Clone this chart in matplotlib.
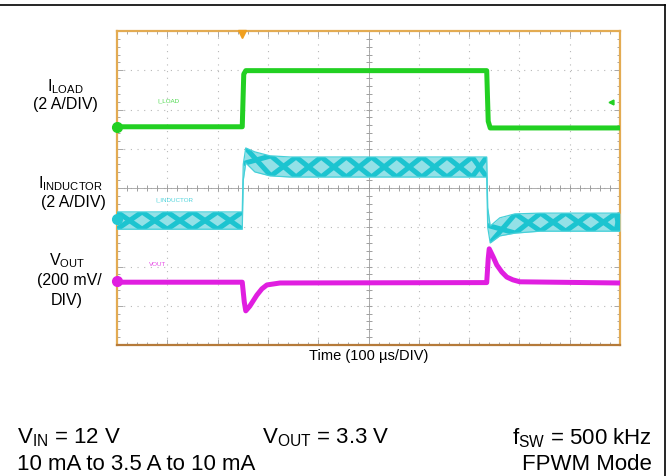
import numpy as np
import matplotlib.pyplot as plt
from matplotlib.lines import Line2D

plt.rcParams['font.family'] = ['Liberation Sans', 'DejaVu Sans']
plt.rcParams['mathtext.fontset'] = 'custom'
plt.rcParams['mathtext.rm'] = 'Liberation Sans'
plt.rcParams['mathtext.it'] = 'Liberation Sans:italic'

# scope screen: x in divisions (100 us/div), y in screen divisions (0..8)
iload_x = [0, 2.49, 2.52, 2.56, 7.35, 7.38, 7.42, 10]
iload_y = [5.56, 5.56, 6.9, 6.99, 6.99, 5.7, 5.53, 5.53]

ind_x = [0, 2.49, 2.51, 2.56, 2.74, 3.04, 3.44, 7.35, 7.37, 7.42, 7.61, 7.91, 8.41, 10]
ind_top = [3.39, 3.39, 4.6, 5.02, 4.92, 4.82, 4.79, 4.79, 3.5, 3.03, 3.24, 3.34, 3.36, 3.36]
ind_bot = [2.95, 2.95, 4.2, 4.64, 4.41, 4.31, 4.28, 4.28, 3.0, 2.60, 2.78, 2.85, 2.90, 2.90]
ind_flat = [(0, 2.49), (2.56, 7.35), (7.42, 10)]

vout_x = [0, 2.49, 2.53, 2.56, 2.64, 2.78, 2.88, 2.98, 3.24, 7.35, 7.38,
          7.40, 7.48, 7.55, 7.65, 7.75, 7.87, 8.01, 10]
vout_y = [1.60, 1.60, 1.10, 0.87, 0.99, 1.27, 1.43, 1.53, 1.58, 1.59, 2.20,
          2.45, 2.24, 2.04, 1.86, 1.73, 1.66, 1.61, 1.58]

# channel offsets (left markers) and trigger
ch_offsets = [5.56, 3.21, 1.63]
ch_colors = ['#22d022', '#22c8d2', '#e01ee0']
trig_x = 2.49
trig_level = 6.19
beat_step = 0.5   # spacing of the visible ripple beat pattern, div

W, H = 669, 476
fig = plt.figure(figsize=(W / 100, H / 100), dpi=100)
ax = fig.add_axes([117 / W, 1 - 345 / H, 503 / W, 314 / H])
ax.set_xlim(0, 10)
ax.set_ylim(0, 8)

# grid
for gx in range(1, 10):
    ax.axvline(gx, color='#b8b8b8', lw=0.8, ls=(0, (1, 5)), zorder=1)
for gy in range(1, 8):
    ax.axhline(gy, color='#b8b8b8', lw=0.8, ls=(0, (1, 5)), zorder=1)
ax.axhline(4, color='#a0a0a0', lw=0.6, zorder=1)
ax.axvline(5, color='#a0a0a0', lw=0.6, zorder=1)
tx = np.arange(0, 10.01, 0.2)
ty = np.arange(0, 8.01, 0.2)
ax.plot(tx, np.full_like(tx, 4), ls='none', marker='|', ms=4, color='#a0a0a0', mew=0.7, zorder=1)
ax.plot(np.full_like(ty, 5), ty, ls='none', marker='_', ms=4, color='#a0a0a0', mew=0.7, zorder=1)

ax.set_xticks(np.arange(0, 10.01, 1))
ax.set_xticks(tx, minor=True)
ax.set_yticks(np.arange(0, 8.01, 1))
ax.set_yticks(ty, minor=True)
ax.tick_params(which='both', direction='in', top=True, right=True,
               labelbottom=False, labelleft=False, color='#a8a8a8', width=0.7)
ax.tick_params(which='major', length=4)
ax.tick_params(which='minor', length=2.5)
for s in ax.spines.values():
    s.set_color('#e3ab52')
    s.set_linewidth(1.6)
ax.spines['bottom'].set_color('#b57a3a')

# I_LOAD
ax.plot(iload_x, iload_y, color=ch_colors[0], lw=3.6, zorder=4, solid_joinstyle='round')

# I_INDUCTOR band with ripple beat texture (clipped to the band)
band = ax.fill_between(ind_x, ind_bot, ind_top, color='#93e1e7', lw=0, zorder=3)
band_path = band.get_paths()[0]
for a, b in ind_flat:
    xs = np.append(np.arange(a, b, beat_step), b)
    top_i = np.interp(xs, ind_x, ind_top)
    bot_i = np.interp(xs, ind_x, ind_bot)
    idx = np.arange(len(xs))
    for ph in (0, 1):
        zz = np.where((idx + ph) % 2 == 0, top_i, bot_i)
        ln, = ax.plot(xs, zz, color='#1cc4d0', lw=3.6, zorder=3, solid_joinstyle='round')
        ln.set_clip_path(band_path, ax.transData)
ax.plot(ind_x, ind_top, color='#45d0d9', lw=0.9, zorder=3)
ax.plot(ind_x, ind_bot, color='#45d0d9', lw=0.9, zorder=3)

# V_OUT
ax.plot(vout_x, vout_y, color=ch_colors[2], lw=3.6, zorder=4, solid_joinstyle='round')

# channel markers and trigger markers
for yo, c in zip(ch_offsets, ch_colors):
    ax.plot(0, yo, 'o', ms=7, color=c, clip_on=False, zorder=6)
ax.plot(trig_x, 7.93, marker='v', ms=6, color='#f0a020', clip_on=False, zorder=6)
ax.plot(9.82, trig_level, marker='<', ms=3.5, color=ch_colors[0], zorder=6)

# channel names on screen
ax.text(0.80, 6.18, 'I_LOAD', color=ch_colors[0], fontsize=4.5, alpha=0.8)
ax.text(0.76, 3.65, 'I_INDUCTOR', color=ch_colors[1], fontsize=4.5, alpha=0.8)
ax.text(0.63, 2.02, 'VOUT', color=ch_colors[2], fontsize=4.5, alpha=0.8)

# left labels
def ftext(x, y, s, **kw):
    fig.text(x / W, 1 - y / H, s, va='center', **kw)

lab = dict(ha='center', fontsize=11.5)
ftext(65, 87, r'I$_{\mathrm{LOAD}}$', **lab)
ftext(65, 104, '(2 A/DIV)', **lab)
ftext(71, 184, r'I$_{\mathrm{INDUCTOR}}$', **lab)
ftext(73, 203, '(2 A/DIV)', **lab)
ftext(67, 261, r'V$_{\mathrm{OUT}}$', **lab)
ftext(69, 281, '(200 mV/', **lab)
ftext(67, 300, 'DIV)', **lab)
ftext(369, 356, 'Time (100 µs/DIV)', ha='center', fontsize=10.5)

# conditions
cond = dict(fontsize=16)
ftext(17, 438, r'V$_{\mathrm{IN}}$ = 12 V', ha='left', **cond)
ftext(262, 438, r'V$_{\mathrm{OUT}}$ = 3.3 V', ha='left', **cond)
ftext(652, 438, r'f$_{\mathrm{SW}}$ = 500 kHz', ha='right', **cond)
ftext(17, 464, '10 mA to 3.5 A to 10 mA', ha='left', **cond)
ftext(652, 464, 'FPWM Mode', ha='right', **cond)

# outer box (top and right edges)
fig.add_artist(Line2D([0, 664.5 / W], [1 - 5 / H, 1 - 5 / H], color='black', lw=1.2))
fig.add_artist(Line2D([664.5 / W, 664.5 / W], [0, 1 - 5 / H], color='black', lw=1.2))

fig.savefig('out.png', dpi=100)
